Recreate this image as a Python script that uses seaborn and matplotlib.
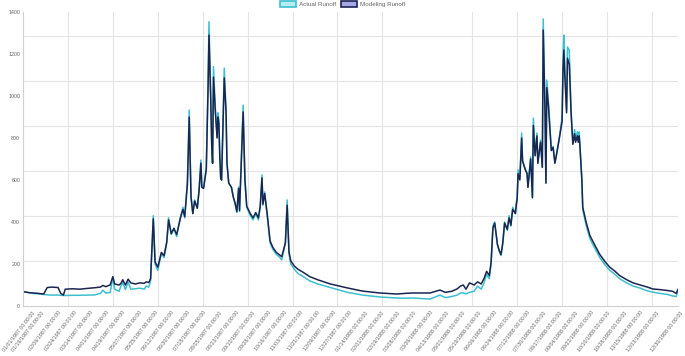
import pandas as pd
import matplotlib.pyplot as plt
import matplotlib.transforms as mtransforms
import seaborn as sns
from matplotlib.patches import Patch
from matplotlib.ticker import FixedLocator

# daily runoff, 01/01/1987 .. 12/30/1988 (days counted from 01/01/1987)
day_offset = [
    0, 8, 17, 23, 27, 32, 39, 42, 45, 47, 55, 63, 72, 80, 86, 89, 92, 97,
    100, 102, 107, 109, 111, 114, 117, 120, 125, 130, 135, 137, 140, 142, 145, 147, 150, 154, 157, 160,
    162, 165, 168, 171, 175, 178, 180, 183,
    185, 187, 189, 191, 194, 196, 198, 199, 201, 204, 206, 207, 209, 210, 211, 212, 214, 216, 217, 218,
    219, 220, 221, 224, 226, 227, 229, 232, 234, 236, 238, 240, 241,
    245, 247, 249, 253, 256, 259, 262, 264, 266, 267, 269, 272, 275, 278, 282, 285, 288, 292, 294, 296,
    298, 302, 306, 312, 319, 328, 342, 361, 378, 397, 416, 425, 434, 453, 464, 470, 477,
    483, 487, 490, 493, 497, 502, 506, 510, 513, 516, 519, 521, 523, 525, 528, 530, 532, 534, 536, 539,
    541, 543, 545, 548,
    549, 550, 551, 553, 555, 556, 559, 561, 562, 565, 567, 568, 570, 572, 573, 576, 578, 579, 581, 582,
    583, 585, 586, 588, 590, 592, 594, 597, 600, 601, 602, 603, 605, 606, 608, 610, 611, 612, 614, 615,
    617, 618, 619, 620, 622, 623,
    627, 631, 637, 642, 648, 653, 659, 664, 672, 679, 687, 695, 701, 709, 717, 723, 727, 729,
]
actual_runoff = [
    70, 62, 58, 55, 53, 52, 52, 51, 50, 50, 51, 51, 52, 53, 60, 75, 62, 64,
    135, 80, 70, 95, 112, 78, 115, 80, 82, 85, 80, 95, 90, 120, 430, 200, 170, 250, 230, 300,
    420, 340, 370, 330, 420, 470, 420, 600,
    933, 520, 440, 505, 470, 560, 695, 570, 565, 660, 1080, 1354, 1000, 780, 680, 1140, 950, 805, 920, 885,
    720, 614, 600, 1133, 935, 680, 585, 565, 520, 490, 445, 567, 450,
    957, 600, 470, 430, 410, 440, 410, 470, 624, 480, 543, 420, 300, 270, 245, 235, 220, 300, 505, 250,
    200, 175, 155, 140, 120, 105, 88, 65, 52, 43, 38, 37, 38, 33, 52, 40, 45,
    52, 62, 62, 58, 65, 70, 95, 80, 110, 150, 130, 200, 380, 400, 290, 260, 240, 300, 400, 360,
    430, 380, 470, 440,
    490, 519, 648, 614, 824, 695, 650, 633, 567, 710, 519, 895, 720, 824, 680, 790, 662, 1367, 933, 586,
    1076, 960, 886, 743, 760, 681, 729, 805, 900, 1186, 1290, 1138, 933, 1233, 1219, 933, 852, 776, 840, 790,
    830, 790, 829, 757, 600, 457,
    380, 320, 270, 230, 195, 170, 150, 130, 110, 95, 85, 72, 66, 60, 55, 48, 45, 70,
]
modeling_runoff = [
    68, 63, 60, 57, 88, 90, 88, 60, 52, 80, 82, 80, 84, 87, 90, 98, 92, 100,
    140, 105, 100, 108, 125, 100, 128, 110, 105, 110, 108, 115, 112, 130, 415, 210, 185, 255, 240, 305,
    410, 345, 370, 340, 415, 460, 425, 580,
    900, 520, 440, 500, 465, 550, 680, 565, 560, 650, 1040, 1290, 970, 770, 680, 1090, 930, 800, 900, 870,
    715, 610, 600, 1086, 920, 680, 585, 565, 520, 490, 450, 560, 455,
    924, 600, 475, 440, 420, 445, 420, 475, 610, 485, 535, 430, 310, 280, 255, 245, 235, 300, 480, 260,
    215, 190, 175, 160, 140, 125, 105, 86, 71, 62, 57, 60, 62, 62, 76, 65, 70,
    81, 95, 100, 80, 110, 100, 115, 105, 130, 165, 145, 210, 370, 395, 295, 265, 245, 300, 395, 365,
    420, 385, 460, 440,
    480, 510, 630, 600, 800, 690, 650, 630, 565, 700, 515, 860, 715, 810, 680, 780, 660, 1314, 920, 585,
    1040, 940, 870, 740, 755, 680, 725, 800, 880, 1120, 1219, 1100, 920, 1180, 1150, 920, 840, 770, 820, 780,
    810, 780, 810, 750, 600, 470,
    395, 335, 285, 245, 210, 185, 165, 145, 125, 110, 100, 90, 81, 78, 74, 70, 60, 80,
]

start = pd.Timestamp('1987-01-01')
last_day = 729
label_days = list(range(0, 703, 18)) + [last_day]
grid_days = list(range(0, last_day, 50))

df = pd.DataFrame({
    'date': start + pd.to_timedelta(day_offset, unit='D'),
    'actual': actual_runoff,
    'model': modeling_runoff,
})

sns.set_style('white')
plt.rcParams['font.family'] = ['Liberation Sans', 'DejaVu Sans']

cyan = '#3dbfd0'
navy = '#1b2650'

fig = plt.figure(figsize=(6.85, 3.56), dpi=100)
ax = fig.add_axes([23 / 685, 50 / 356, 655 / 685, 294 / 356])

sns.lineplot(data=df, x='date', y='actual', color=cyan, lw=1.1, ax=ax)
sns.lineplot(data=df, x='date', y='model', color=navy, lw=1.1, ax=ax)

ax.set_xlim(start, start + pd.Timedelta(days=last_day))
ax.set_ylim(0, 1400)

# labels
ax.set_yticks(range(0, 1401, 200))
tick_dates = [start + pd.Timedelta(days=d) for d in label_days]
ax.set_xticks(tick_dates)
ax.set_xticklabels([d.strftime('%m/%d/%Y 00:00:00') for d in tick_dates],
                   rotation=52, ha='right', rotation_mode='anchor')
ax.tick_params(axis='both', which='major', labelsize=3.8, labelcolor='#666666', length=0, pad=2)
ax.tick_params(axis='x', which='major', pad=3)
for i, lbl in enumerate(ax.get_xticklabels()):
    dx = 9 if i == 0 else 2.5
    lbl.set_transform(lbl.get_transform() + mtransforms.ScaledTranslation(dx / 100, 0, fig.dpi_scale_trans))

# background grid (45px squares, not tied to the labels)
ax.yaxis.set_minor_locator(FixedLocator([1400 * 45 / 294 * k for k in range(1, 7)]))
grid_dates = [start + pd.Timedelta(days=d) for d in grid_days]
ax.xaxis.set_minor_locator(FixedLocator([pd.Timestamp(d).toordinal() - 719163 for d in grid_dates]))
ax.tick_params(which='minor', length=0)
ax.grid(which='minor', color='#e4e4e4', lw=0.8)
ax.grid(which='major', visible=False)
ax.set_axisbelow(True)

for s in ['top', 'right']:
    ax.spines[s].set_visible(False)
for s in ['left', 'bottom']:
    ax.spines[s].set_color('#d0d0d0')
    ax.spines[s].set_linewidth(0.8)

ax.set_xlabel('')
ax.set_ylabel('')

handles = [
    Patch(facecolor='#b5ecef', edgecolor=cyan, lw=1.2, label='Actual Runoff'),
    Patch(facecolor='#a6a6e8', edgecolor=navy, lw=1.2, label='Modeling Runoff'),
]
fig.legend(handles=handles, loc='upper center', bbox_to_anchor=(0.5, 1.012), ncol=2,
           frameon=False, fontsize=4.5, labelcolor='#666666', handlelength=2.6,
           handleheight=1.0, handletextpad=0.4, columnspacing=0.8)

fig.savefig('out.png', dpi=100)
